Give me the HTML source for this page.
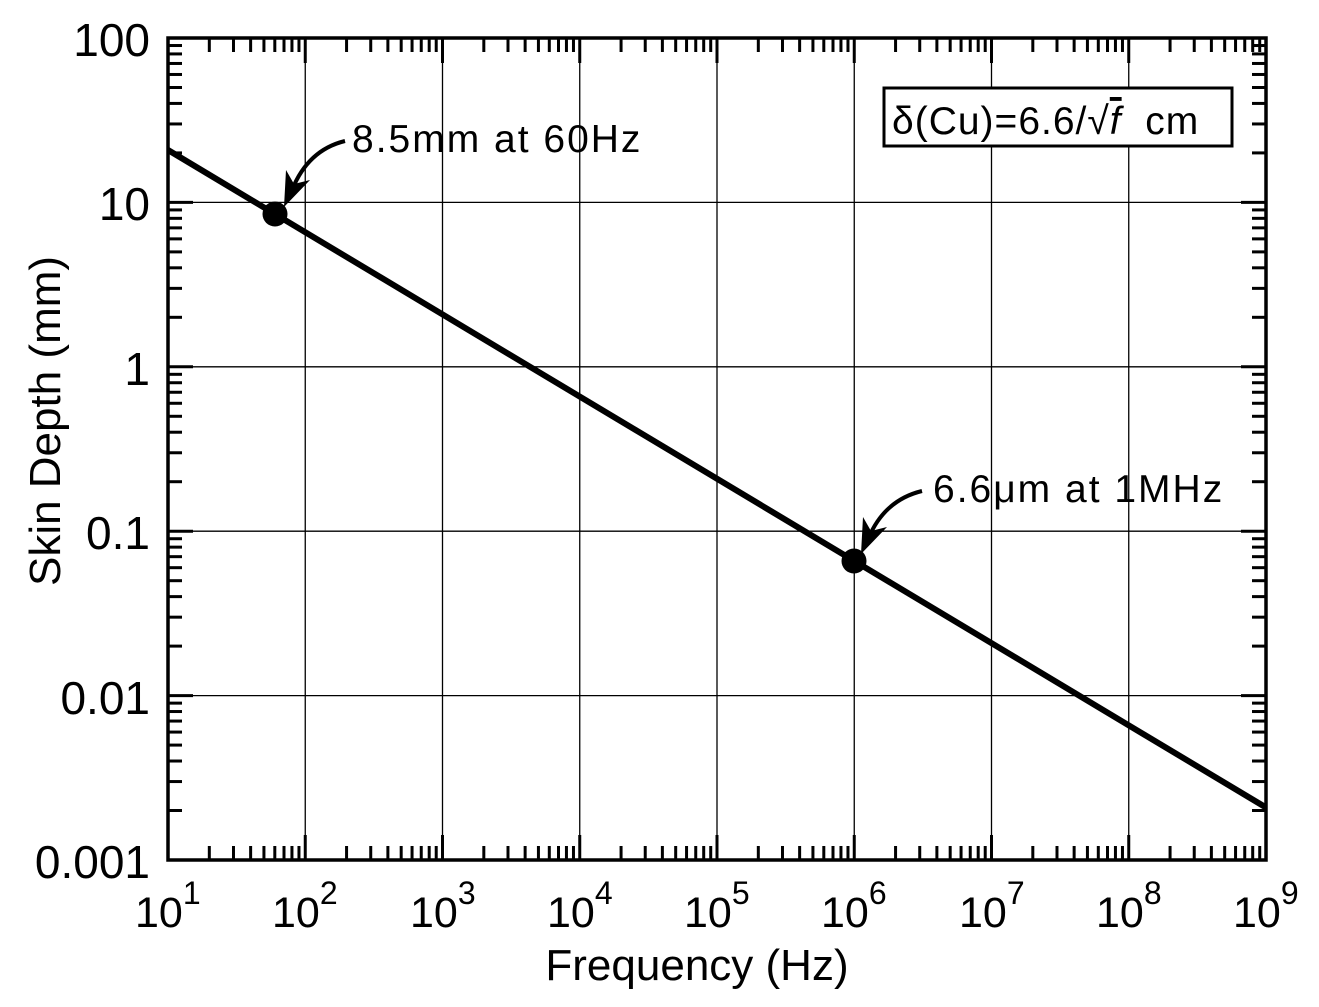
<!DOCTYPE html>
<html><head><meta charset="utf-8"><style>
html,body{margin:0;padding:0;background:#fff;}
svg{display:block;font-family:"Liberation Sans",sans-serif;}
</style></head><body>
<svg id="s" width="1319" height="1007" viewBox="0 0 1319 1007" xmlns="http://www.w3.org/2000/svg">
<g id="grid" stroke="#000" stroke-width="1.3"></g>
<g id="ticks" stroke="#000" stroke-width="3"></g>
<rect x="168" y="38" width="1098" height="822" fill="none" stroke="#000" stroke-width="3.5"/>
<line x1="168" y1="150" x2="1266" y2="807.5" stroke="#000" stroke-width="6"/>
<circle cx="275" cy="214" r="12.5" fill="#000"/>
<circle cx="854" cy="561" r="12.5" fill="#000"/>
<path d="M345,141 Q308,150 292,190" fill="none" stroke="#000" stroke-width="4"/>
<path d="M284,207 L286,170 L294,184 L310,180 Z" fill="#000"/>
<path d="M922,491 Q885,500 869,537" fill="none" stroke="#000" stroke-width="4"/>
<path d="M861,554 L863,517 L871,531 L887,527 Z" fill="#000"/>
<g font-size="39" fill="#000" letter-spacing="2">
<text x="352" y="152">8.5mm at 60Hz</text>
<text x="933" y="502">6.6μm at 1MHz</text>
</g>
<rect x="884" y="88" width="348" height="58" fill="#fff" stroke="#000" stroke-width="3"/>
<text x="892" y="134" font-size="39" letter-spacing="1" xml:space="preserve">δ(Cu)=6.6/√<tspan font-style="italic" text-decoration="overline">f</tspan>  cm</text>
<g font-size="46" text-anchor="end">
<text x="150" y="56">100</text>
<text x="150" y="220">10</text>
<text x="150" y="385">1</text>
<text x="150" y="549">0.1</text>
<text x="150" y="714">0.01</text>
<text x="150" y="878">0.001</text>
</g>
<text x="697" y="980" font-size="44" text-anchor="middle">Frequency (Hz)</text>
<text transform="translate(60,421) rotate(-90)" font-size="44" text-anchor="middle">Skin Depth (mm)</text>
<g font-size="43">
<text x="135" y="927">10<tspan dy="-23" font-size="32">1</tspan></text>
<text x="272" y="927">10<tspan dy="-23" font-size="32">2</tspan></text>
<text x="410" y="927">10<tspan dy="-23" font-size="32">3</tspan></text>
<text x="547" y="927">10<tspan dy="-23" font-size="32">4</tspan></text>
<text x="684" y="927">10<tspan dy="-23" font-size="32">5</tspan></text>
<text x="821" y="927">10<tspan dy="-23" font-size="32">6</tspan></text>
<text x="959" y="927">10<tspan dy="-23" font-size="32">7</tspan></text>
<text x="1096" y="927">10<tspan dy="-23" font-size="32">8</tspan></text>
<text x="1233" y="927">10<tspan dy="-23" font-size="32">9</tspan></text>
</g>
</svg>
<script>
var NS="http://www.w3.org/2000/svg";
function L(g,a,b,c,d){var l=document.createElementNS(NS,"line");l.setAttribute("x1",a);l.setAttribute("y1",b);l.setAttribute("x2",c);l.setAttribute("y2",d);document.getElementById(g).appendChild(l);}
var x0=168,x1=1266,y0=38,y1=860,dx=(x1-x0)/8,dy=(y1-y0)/5;
for(var i=0;i<=8;i++){var x=x0+i*dx;if(i>0&&i<8)L("grid",x,y0,x,y1);
 L("ticks",x,y1,x,y1-25);L("ticks",x,y0,x,y0+25);
 if(i<8)for(var k=2;k<10;k++){var xx=x+Math.log10(k)*dx;L("ticks",xx,y1,xx,y1-14);L("ticks",xx,y0,xx,y0+14);}}
for(var j=0;j<=5;j++){var y=y0+j*dy;if(j>0&&j<5)L("grid",x0,y,x1,y);
 L("ticks",x0,y,x0+25,y);L("ticks",x1,y,x1-25,y);
 if(j<5)for(var k=2;k<10;k++){var yy=y+dy-Math.log10(k)*dy;L("ticks",x0,yy,x0+14,yy);L("ticks",x1,yy,x1-14,yy);}}
</script>
</body></html>
